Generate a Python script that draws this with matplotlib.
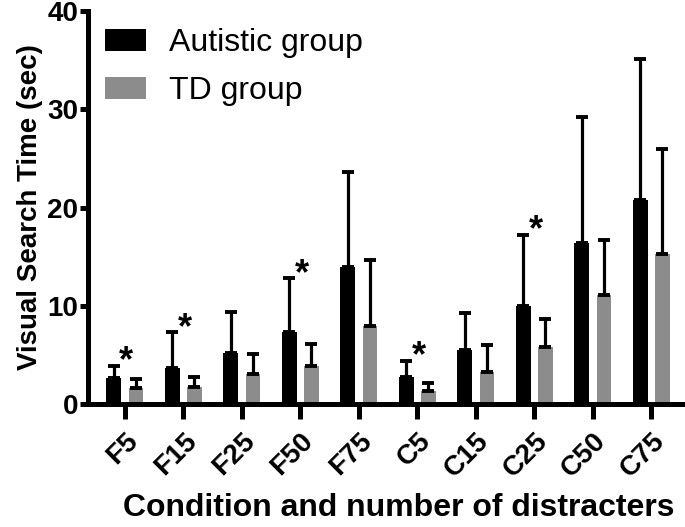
import numpy as np
import matplotlib.pyplot as plt
from matplotlib import rcParams

rcParams['font.family'] = 'Liberation Sans'

conditions = ['F5', 'F15', 'F25', 'F50', 'F75', 'C5', 'C15', 'C25', 'C50', 'C75']
autistic_mean = [2.6, 3.7, 5.2, 7.3, 13.9, 2.7, 5.5, 10.0, 16.4, 20.8]
autistic_err = [1.3, 3.6, 4.2, 5.5, 9.7, 1.7, 3.8, 7.2, 12.8, 14.3]
td_mean = [1.6, 1.7, 3.1, 3.9, 7.9, 1.35, 3.3, 5.8, 11.1, 15.3]
td_err = [0.9, 1.0, 2.0, 2.2, 6.8, 0.8, 2.7, 2.9, 5.6, 10.7]
significant = [True, True, False, True, False, True, False, True, False, False]

fig = plt.figure(figsize=(6.85, 5.27), dpi=100)
ax = fig.add_axes([0.1285, 0.2334, 0.8685, 0.7456])

pos = np.arange(len(conditions))
w = 0.25
off = 0.19
err_kw = dict(ecolor='black', elinewidth=2.3, capsize=4, capthick=2.8)

ax.bar(pos - off, autistic_mean, w, color='black', label='Autistic group',
       yerr=[np.zeros(len(pos)), autistic_err], error_kw=err_kw)
ax.bar(pos + off, td_mean, w, color='#8c8c8c', label='TD group',
       yerr=[np.zeros(len(pos)), td_err], error_kw=err_kw)

# significance stars
for p, m, e, s in zip(pos, autistic_mean, autistic_err, significant):
    if s:
        ax.text(p + 0.02, m + e + 0.4, '*', ha='center', va='center',
                fontsize=26, fontweight='bold')

ax.set_xlim(-0.63, 9.54)
ax.set_ylim(0, 40)
ax.set_yticks([0, 10, 20, 30, 40])
ax.set_xticks(pos)
ax.set_xticklabels(conditions, rotation=45, ha='right', rotation_mode='anchor',
                   fontsize=20, fontweight='bold')
for lab in ax.get_yticklabels():
    lab.set_fontsize(20)
    lab.set_fontweight('bold')

for side in ['top', 'right']:
    ax.spines[side].set_visible(False)
for side in ['left', 'bottom']:
    ax.spines[side].set_linewidth(3.6)
ax.tick_params(axis='x', length=11, width=3.6, pad=6)
ax.tick_params(axis='y', length=6, width=3.6, pad=1)

ax.set_ylabel('Visual Search Time (sec)', fontsize=20, fontweight='bold', labelpad=3)
ax.set_xlabel('Condition and number of distracters', fontsize=23, fontweight='bold')
ax.xaxis.set_label_coords(0.5227, -0.226)
ax.xaxis.label.set_va('top')

ax.legend(loc='upper left', bbox_to_anchor=(0.153, 0.946), bbox_transform=fig.transFigure,
          frameon=False, fontsize=23, handlelength=1.3, handleheight=0.69,
          handletextpad=0.72, labelspacing=0.55, borderpad=0, borderaxespad=0)

fig.savefig('out.png', dpi=100)
